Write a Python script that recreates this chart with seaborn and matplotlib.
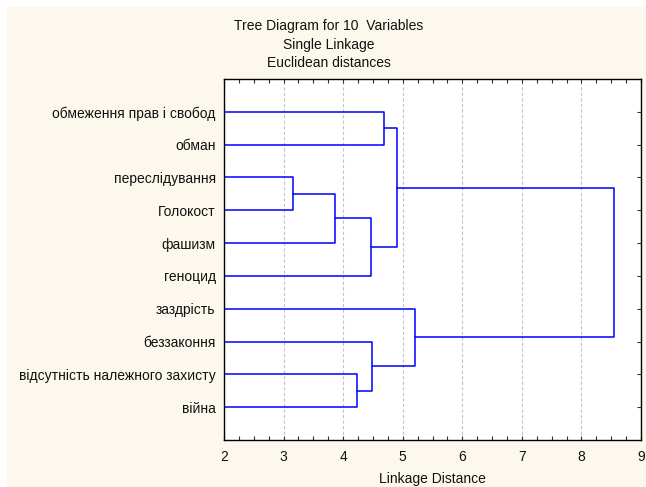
import matplotlib
matplotlib.use('Agg')

from matplotlib import pyplot as plt
from matplotlib.patches import Rectangle
from matplotlib.ticker import MultipleLocator
import pandas as pd
import seaborn as sns


# leaves, top to bottom, as they appear on the tree
LEAVES = [
    'обмеження прав і свобод',
    'обман',
    'переслідування',
    'Голокост',
    'фашизм',
    'геноцид',
    'заздрість',
    'беззаконня',
    'відсутність належного захисту',
    'війна',
]

# merges: node ids < 10 are leaves, node 10 + k is the cluster made by merge k
MERGE_LEFT = [2, 10, 8, 11, 12, 0, 15, 14, 16]
MERGE_RIGHT = [3, 4, 9, 5, 7, 1, 13, 6, 17]
MERGE_DIST = [3.16, 3.87, 4.24, 4.47, 4.48, 4.69, 4.90, 5.20, 8.55]

TITLE_LINES = ['Tree Diagram for 10  Variables', 'Single Linkage',
               'Euclidean distances']

X_MIN, X_MAX = 2, 9

BG = '#fdf8ee'
FONT = ['Liberation Sans', 'DejaVu Sans']
FS = 10


def build_links():
    n = len(LEAVES)
    pos = {i: i + 1 for i in range(n)}
    height = {i: X_MIN for i in range(n)}
    rows = []
    for k, (a, b, d) in enumerate(zip(MERGE_LEFT, MERGE_RIGHT, MERGE_DIST)):
        pts = [(height[a], pos[a]), (d, pos[a]), (d, pos[b]), (height[b], pos[b])]
        for x, y in pts:
            rows.append({'x': x, 'y': y, 'link': k})
        pos[n + k] = (pos[a] + pos[b]) / 2
        height[n + k] = d
    return pd.DataFrame(rows)


def main():
    sns.set_theme(style='white')
    plt.rcParams['font.family'] = FONT
    plt.rcParams['font.size'] = FS

    fig = plt.figure(figsize=(6.46, 4.87), dpi=100, facecolor='white')
    fig.patches.append(Rectangle((7 / 646, 0), 1, 1 - 7 / 487,
                                 transform=fig.transFigure, color=BG,
                                 zorder=-1))
    ax = fig.add_axes([224 / 646, 1 - 440 / 487, 417 / 646, 361 / 487])
    ax.set_facecolor('white')

    links = build_links()
    sns.lineplot(data=links, x='x', y='y', units='link', estimator=None,
                 sort=False, color='#0000ff', lw=1.1, ax=ax)

    ax.set_xlim(X_MIN, X_MAX)
    ax.set_ylim(len(LEAVES) + 1, 0)
    ax.xaxis.set_major_locator(MultipleLocator(1))
    ax.xaxis.set_minor_locator(MultipleLocator(0.25))
    ax.set_yticks(range(1, len(LEAVES) + 1))
    ax.set_yticklabels(LEAVES)

    ax.grid(axis='x', which='major', color='#c4c4c4', lw=0.8,
            linestyle=(0, (3, 2)))
    ax.set_axisbelow(True)

    for side in ax.spines.values():
        side.set_color('black')
        side.set_linewidth(1.0)

    ax.tick_params(axis='x', which='both', direction='in', length=3,
                   width=0.8, top=True, bottom=True, color='#333333',
                   labelsize=FS, pad=7)
    ax.tick_params(axis='y', direction='in', length=3, width=0.8,
                   left=False, right=True, color='#333333',
                   labelsize=FS, pad=6)
    for lab in ax.get_xticklabels() + ax.get_yticklabels():
        lab.set_color('#111111')

    ax.set_xlabel('Linkage Distance', fontsize=FS, labelpad=6,
                  color='#111111')
    ax.set_ylabel('')

    for line, y_px in zip(TITLE_LINES, [26, 44.5, 63]):
        fig.text(329 / 646, 1 - y_px / 487, line, ha='center', va='center',
                 fontsize=FS, color='#111111')

    fig.savefig('out.png', dpi=100, facecolor=fig.get_facecolor())


if __name__ == '__main__':
    main()
